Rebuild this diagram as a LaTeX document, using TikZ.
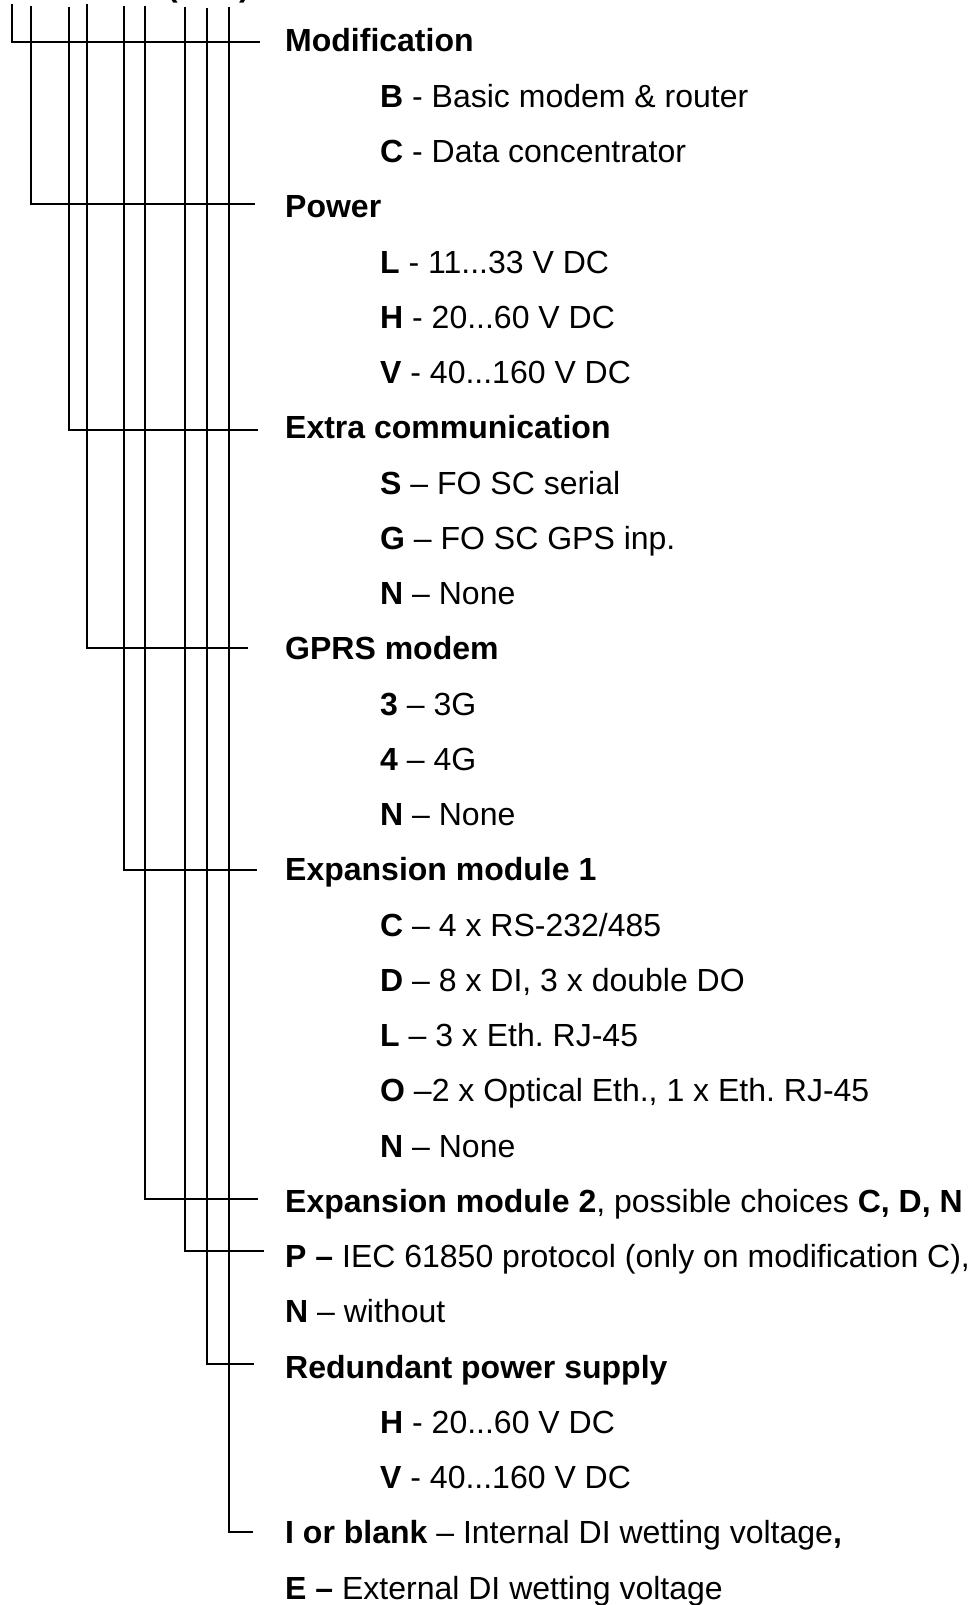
\documentclass[tikz,border=0pt]{standalone}
\usepackage{fontspec}
\setmainfont{Liberation Sans}
\frenchspacing
\begin{document}
\begin{tikzpicture}[x=1pt,y=-1pt,
  txt/.style={anchor=base west,inner sep=0pt,font=\fontsize{32}{38}\selectfont\frenchspacing},
  wire/.style={line width=1.7pt,black}]
\useasboundingbox (0,0) rectangle (976,1605);
% cut-off text above
\node[anchor=base west,inner sep=0pt,font=\fontsize{32}{38}\selectfont\bfseries] (popen) at (167,-3.5) {(};
\node[anchor=base west,inner sep=0pt,font=\fontsize{32}{38}\selectfont\bfseries] (pclose) at (239,-3.5) {)};
% texts
\def\bl#1{52+#1*55.25}
\node[txt] (t0)  at (285,{\bl{0}})  {\textbf{Modification}};
\node[txt] (t1)  at (380,{\bl{1}})  {\textbf{B} - Basic modem \& router};
\node[txt] (t2)  at (380,{\bl{2}})  {\textbf{C} - Data concentrator};
\node[txt] (t3)  at (285,{\bl{3}})  {\textbf{Power}};
\node[txt] (t4)  at (380,{\bl{4}})  {\textbf{L} - 11...33 V DC};
\node[txt] (t5)  at (380,{\bl{5}})  {\textbf{H} - 20...60 V DC};
\node[txt] (t6)  at (380,{\bl{6}})  {\textbf{V} - 40...160 V DC};
\node[txt] (t7)  at (285,{\bl{7}})  {\textbf{Extra communication}};
\node[txt] (t8)  at (380,{\bl{8}})  {\textbf{S} – FO SC serial};
\node[txt] (t9)  at (380,{\bl{9}})  {\textbf{G} – FO SC GPS inp.};
\node[txt] (t10) at (380,{\bl{10}}) {\textbf{N} – None};
\node[txt] (t11) at (285,{\bl{11}}) {\textbf{GPRS modem}};
\node[txt] (t12) at (380,{\bl{12}}) {\textbf{3} – 3G};
\node[txt] (t13) at (380,{\bl{13}}) {\textbf{4} – 4G};
\node[txt] (t14) at (380,{\bl{14}}) {\textbf{N} – None};
\node[txt] (t15) at (285,{\bl{15}}) {\textbf{Expansion module 1}};
\node[txt] (t16) at (380,{\bl{16}}) {\textbf{C} – 4 x RS-232/485};
\node[txt] (t17) at (380,{\bl{17}}) {\textbf{D} – 8 x DI, 3 x double DO};
\node[txt] (t18) at (380,{\bl{18}}) {\textbf{L} – 3 x Eth. RJ-45};
\node[txt] (t19) at (380,{\bl{19}}) {\textbf{O} –2 x Optical Eth., 1 x Eth. RJ-45};
\node[txt] (t20) at (380,{\bl{20}}) {\textbf{N} – None};
\node[txt] (t21) at (285,{\bl{21}}) {\textbf{Expansion module 2}, possible choices \textbf{C, D, N}};
\node[txt] (t22) at (285,{\bl{22}}) {\textbf{P –} IEC 61850 protocol (only on modification C),};
\node[txt] (t23) at (285,{\bl{23}}) {\textbf{N} – without};
\node[txt] (t24) at (285,{\bl{24}}) {\textbf{Redundant power supply}};
\node[txt] (t25) at (380,{\bl{25}}) {\textbf{H} - 20...60 V DC};
\node[txt] (t26) at (380,{\bl{26}}) {\textbf{V} - 40...160 V DC};
\node[txt] (t27) at (285,{\bl{27}}) {\textbf{I or blank} – Internal DI wetting voltage\textbf{,}};
\node[txt] (t28) at (285,{\bl{28}}) {\textbf{E –} External DI wetting voltage};
% wire ends
\coordinate (s1) at (12,4);   \coordinate (e1) at (260,42);
\coordinate (s2) at (31,6);   \coordinate (e2) at (255,204);
\coordinate (s3) at (69,7);   \coordinate (e3) at (258,430);
\coordinate (s4) at (87,4);   \coordinate (e4) at (248,648);
\coordinate (s5) at (124,6);  \coordinate (e5) at (257,870);
\coordinate (s6) at (145,6);  \coordinate (e6) at (258,1199);
\coordinate (s7) at (185,7);  \coordinate (e7) at (264,1251);
\coordinate (s8) at (207,8);  \coordinate (e8) at (254,1364);
\coordinate (s9) at (229,7);  \coordinate (e9) at (253,1532);
\foreach \i in {1,...,9} { \draw[wire] (s\i) |- (e\i); }
\end{tikzpicture}
\end{document}
